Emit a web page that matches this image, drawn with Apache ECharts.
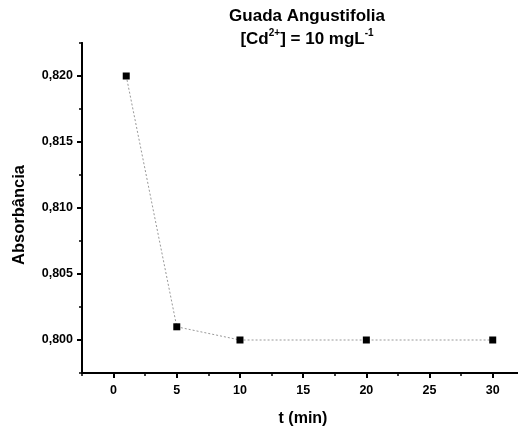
<!DOCTYPE html>
<html>
<head>
<meta charset="utf-8">
<script src="https://cdn.jsdelivr.net/npm/echarts@6/dist/echarts.min.js"></script>
<style>html,body{margin:0;padding:0;background:#fff}#c{width:518px;height:428px}</style>
</head>
<body>
<div id="c"></div>
<script>
const times = [1, 5, 10, 20, 30];
const absorbance = [0.820, 0.801, 0.800, 0.800, 0.800];
const xMajorTicks = [0, 5, 10, 15, 20, 25, 30];
const yMajorTicks = [0.800, 0.805, 0.810, 0.815, 0.820];
const xMinorTicks = [-2.5, 2.5, 7.5, 12.5, 17.5, 22.5, 27.5];
const yMinorTicks = [0.7975, 0.8025, 0.8075, 0.8125, 0.8175, 0.8225];

const FONT = '"Liberation Sans", Arial, sans-serif';
const chart = echarts.init(document.getElementById('c'), null, {renderer: 'canvas'});
const lbl = {color: '#000', fontFamily: FONT, fontWeight: 'bold', fontSize: 12.5};

chart.setOption({
  animation: false,
  backgroundColor: '#fff',
  title: {
    left: 302, top: 0, textAlign: 'center',
    text: 'Guada Angustifolia\n{a|[Cd}{s|2+}{a|] = 10 mgL}{s|-1}',
    textStyle: {
      fontFamily: FONT, fontWeight: 'bold', fontSize: 17, color: '#000', lineHeight: 23,
      rich: {
        a: {fontFamily: FONT, fontWeight: 'bold', fontSize: 17, color: '#000', lineHeight: 23},
        s: {fontFamily: FONT, fontWeight: 'bold', fontSize: 10, color: '#000', verticalAlign: 'top', lineHeight: 14, padding: [0,0,8,0]}
      }
    }
  },
  graphic: [{
    type: 'text', x: 19, y: 215, rotation: Math.PI / 2,
    style: {text: 'Absorbância', fontFamily: FONT, fontWeight: 'bold', fontSize: 16.5, fill: '#000', align: 'center', verticalAlign: 'middle'}
  }],
  grid: {left: 82, right: 0, top: 43, bottom: 55, containLabel: false, outerBoundsMode: 'none'},
  xAxis: [
    {
      type: 'value', min: -2.5, max: 32,
      name: 't (min)', nameLocation: 'middle', nameGap: 38,
      nameTextStyle: {fontFamily: FONT, fontWeight: 'bold', fontSize: 16, color: '#000', padding: [0, 0, 0, 6]},
      axisLine: {show: true, onZero: false, lineStyle: {color: '#000', width: 2}},
      axisTick: {show: true, length: 5, customValues: xMajorTicks, lineStyle: {color: '#000', width: 2}},
      axisLabel: Object.assign({margin: 11, customValues: xMajorTicks}, lbl),
      splitLine: {show: false}
    },
    {
      type: 'value', min: -2.5, max: 32, position: 'bottom',
      axisLine: {show: true, onZero: false, lineStyle: {color: '#000', width: 2}},
      axisTick: {show: true, length: 3, customValues: xMinorTicks, lineStyle: {color: '#000', width: 1.5}},
      axisLabel: {show: false},
      splitLine: {show: false}
    }
  ],
  yAxis: [
    {
      type: 'value', min: 0.7975, max: 0.8225,
      axisLine: {show: true, onZero: false, lineStyle: {color: '#000', width: 2}},
      axisTick: {show: true, length: 5, customValues: yMajorTicks, lineStyle: {color: '#000', width: 2}},
      axisLabel: Object.assign({margin: 9, customValues: yMajorTicks, formatter: v => v.toFixed(3).replace('.', ',')}, lbl),
      splitLine: {show: false}
    },
    {
      type: 'value', min: 0.7975, max: 0.8225, position: 'left',
      axisLine: {show: true, onZero: false, lineStyle: {color: '#000', width: 2}},
      axisTick: {show: true, length: 3, customValues: yMinorTicks, lineStyle: {color: '#000', width: 1.5}},
      axisLabel: {show: false},
      splitLine: {show: false}
    }
  ],
  series: [{
    type: 'line',
    xAxisIndex: 0, yAxisIndex: 0,
    data: times.map((t, i) => [t, absorbance[i]]),
    symbol: 'rect', symbolSize: 7,
    itemStyle: {color: '#000'},
    lineStyle: {color: '#999', width: 1, type: [2, 2]},
    z: 5
  }]
});
</script>
</body>
</html>
